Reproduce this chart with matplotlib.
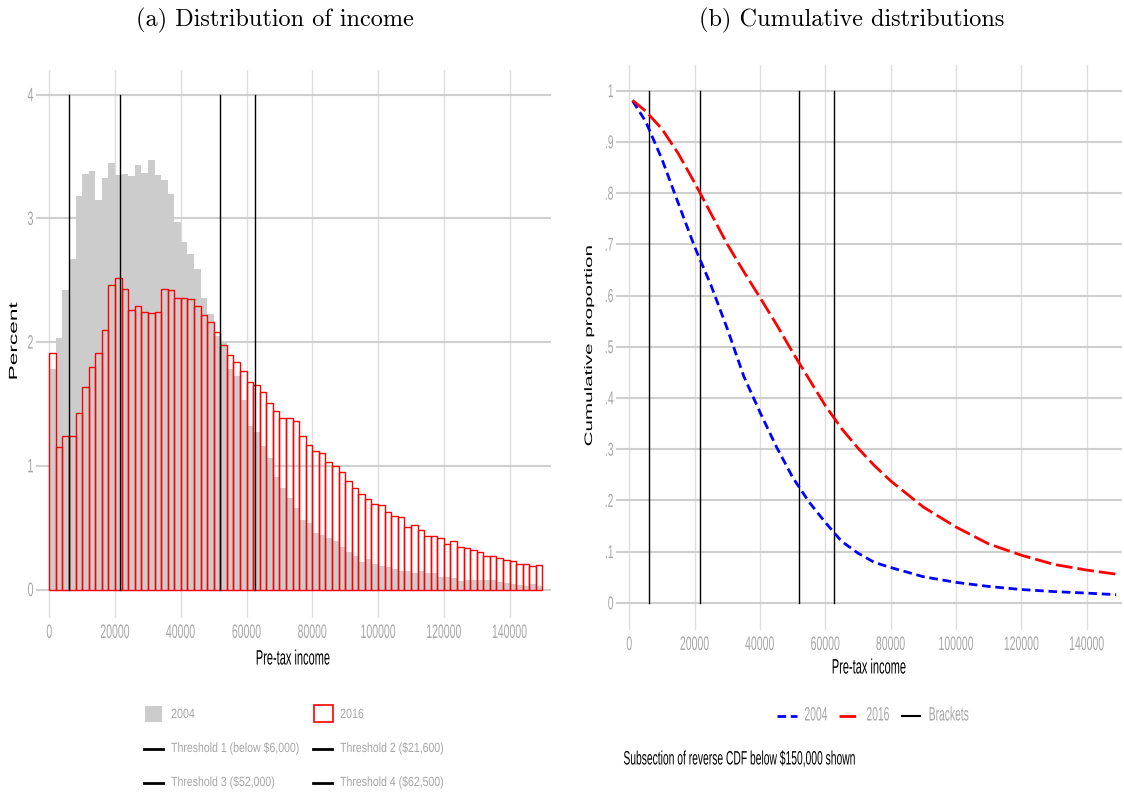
import numpy as np
import matplotlib
matplotlib.use("Agg")
import matplotlib.pyplot as plt
from matplotlib import font_manager as fm
from matplotlib.patches import Rectangle
from matplotlib.lines import Line2D
from matplotlib.patheffects import AbstractPathEffect
from matplotlib.transforms import Affine2D

names = {f.name for f in fm.fontManager.ttflist}
SANS = 'Liberation Sans' if 'Liberation Sans' in names else 'DejaVu Sans'
TITLE_FONT = 'cmr10' if 'cmr10' in names else 'DejaVu Serif'
plt.rcParams['font.family'] = [SANS, 'DejaVu Sans']

GREY_TXT = '#a6a6a6'
GRID_H = '#cfcfcf'
GRID_V = '#dedede'
SQ = 0.53   # the reference text is squeezed along the baseline


class Squeeze(AbstractPathEffect):
    """draw text scaled along its baseline (sx) and across it (sy)"""
    def __init__(self, sx=1.0, sy=1.0, anchor='center'):
        super().__init__()
        self.sx, self.sy, self.anchor = sx, sy, anchor

    def draw_path(self, renderer, gc, tpath, affine, rgbFace=None):
        ext = tpath.get_extents()
        if self.anchor == 'left':
            cx = ext.x0
        elif self.anchor == 'right':
            cx = ext.x1
        else:
            cx = (ext.x0 + ext.x1) / 2
        cy = (ext.y0 + ext.y1) / 2
        tr = Affine2D().translate(-cx, -cy).scale(self.sx, self.sy).translate(cx, cy) + affine
        renderer.draw_path(gc, tpath, tr, rgbFace)


# ---- data ----
bin_width = 2000
bin_left = np.arange(0, 150000, bin_width)

pct_2004 = [1.78, 2.03, 2.42, 2.67, 3.18, 3.36, 3.38, 3.15, 3.33, 3.45,
            3.35, 3.36, 3.34, 3.43, 3.37, 3.47, 3.35, 3.31, 3.20, 2.97,
            2.81, 2.71, 2.59, 2.36, 2.23, 2.05, 2.00, 1.78, 1.73, 1.53,
            1.32, 1.27, 1.16, 1.06, 0.91, 0.82, 0.74, 0.66, 0.56, 0.54,
            0.46, 0.44, 0.42, 0.39, 0.34, 0.30, 0.27, 0.22, 0.25, 0.21,
            0.19, 0.18, 0.17, 0.15, 0.15, 0.13, 0.15, 0.13, 0.13, 0.10,
            0.105, 0.09, 0.07, 0.075, 0.08, 0.08, 0.08, 0.075, 0.06, 0.055,
            0.045, 0.035, 0.03, 0.045, 0.03]

pct_2016 = [1.91, 1.15, 1.24, 1.245, 1.43, 1.64, 1.80, 1.91, 2.10, 2.46,
            2.52, 2.43, 2.26, 2.29, 2.24, 2.235, 2.24, 2.43, 2.42, 2.36,
            2.36, 2.35, 2.29, 2.22, 2.16, 2.08, 1.98, 1.90, 1.84, 1.77,
            1.68, 1.65, 1.60, 1.51, 1.44, 1.39, 1.39, 1.36, 1.24, 1.17,
            1.12, 1.105, 1.035, 0.995, 0.954, 0.88, 0.82, 0.77, 0.73, 0.695,
            0.68, 0.63, 0.595, 0.59, 0.505, 0.52, 0.48, 0.435, 0.43, 0.42,
            0.37, 0.39, 0.346, 0.335, 0.32, 0.30, 0.27, 0.27, 0.254, 0.24,
            0.232, 0.21, 0.21, 0.19, 0.197]

thresholds = [6000, 21600, 52000, 62500]
threshold_labels = ['Threshold 1 (below $6,000)', 'Threshold 2 ($21,600)',
                    'Threshold 3 ($52,000)', 'Threshold 4 ($62,500)']

cdf_income = [1000, 5000, 10000, 15000, 20000, 25000, 30000, 35000, 40000,
              45000, 50000, 55000, 60000, 65000, 70000, 75000, 80000, 90000,
              100000, 110000, 120000, 130000, 140000, 149000]
cdf_2004 = [0.98, 0.94, 0.866, 0.78, 0.695, 0.62, 0.535, 0.443, 0.372,
            0.305, 0.245, 0.197, 0.157, 0.12, 0.097, 0.079, 0.069, 0.051,
            0.04, 0.032, 0.026, 0.022, 0.019, 0.016]
cdf_2016 = [0.981, 0.96, 0.925, 0.877, 0.82, 0.76, 0.70, 0.647, 0.596,
            0.544, 0.489, 0.437, 0.385, 0.340, 0.302, 0.268, 0.238, 0.187,
            0.148, 0.115, 0.093, 0.075, 0.064, 0.056]

xticks = [0, 20000, 40000, 60000, 80000, 100000, 120000, 140000]
yticks_b = [0, .1, .2, .3, .4, .5, .6, .7, .8, .9, 1]
ylabels_b = ['0', '.1', '.2', '.3', '.4', '.5', '.6', '.7', '.8', '.9', '1']

fig = plt.figure(figsize=(11.24, 7.98), dpi=100)
W, H = 1124, 798


def fx(x):
    return x / W


def fy(y):
    return 1 - y / H


def px_axes(x0, y0, x1, y1):
    return fig.add_axes([fx(x0), fy(y1), (x1 - x0) / W, (y1 - y0) / H])


def ftext(x, y, s, size=14, color='black', ha='left', rot=0, sx=SQ, **kw):
    return fig.text(fx(x), fy(y), s, fontsize=size, color=color, ha=ha,
                    va='center', rotation=rot,
                    path_effects=[Squeeze(sx=sx, anchor=ha)], **kw)


def style(ax, xpad, ypad, ysize):
    for s in ax.spines.values():
        s.set_visible(False)
    ax.tick_params(length=0, colors=GREY_TXT)
    ax.tick_params(axis='x', pad=xpad, labelsize=14)
    ax.tick_params(axis='y', pad=ypad, labelsize=ysize)
    for lab in ax.get_xticklabels():
        lab.set_path_effects([Squeeze(sx=0.54, anchor='center')])
    for lab in ax.get_yticklabels():
        lab.set_path_effects([Squeeze(sx=0.55, anchor='right')])


# ---- (a) histogram ----
ax1 = px_axes(36, 70, 551, 618)
ax1.set_xlim(-4050, 152600)
ax1.set_ylim(-0.23, 4.2)
for v in xticks:
    ax1.axvline(v, color=GRID_V, lw=1.0, zorder=0)
for v in range(5):
    ax1.axhline(v, color=GRID_H, lw=1.5, zorder=0)
ax1.bar(bin_left, pct_2004, width=bin_width, align='edge', color='#cccccc',
        lw=0, zorder=1)
ax1.bar(bin_left, pct_2016, width=bin_width, align='edge', facecolor='none',
        edgecolor='red', lw=1.0, zorder=2)
for t in thresholds:
    ax1.plot([t, t], [0, 4], color='black', lw=1.0, zorder=3)
ax1.set_xticks(xticks)
ax1.set_yticks([0, 1, 2, 3, 4])
ax1.set_yticklabels(['0', '1', '2', '3', '4'])
style(ax1, 5, 1.5, 14)

# ---- (b) reverse CDF ----
ax2 = px_axes(616, 65, 1122, 630)
ax2.set_xlim(-4070, 150800)
ax2.set_ylim(-0.053, 1.05)
for v in xticks:
    ax2.axvline(v, color=GRID_V, lw=1.0, zorder=0)
for v in yticks_b:
    ax2.axhline(v, color=GRID_H, lw=1.5, zorder=0)
for t in thresholds:
    ax2.plot([t, t], [0, 1], color='black', lw=1.0, zorder=3)
ax2.plot(cdf_income, cdf_2004, color='blue', lw=2.0, dashes=(3.1, 1.7),
         zorder=4)
ax2.plot(cdf_income, cdf_2016, color='red', lw=2.0, dashes=(6.0, 1.8),
         zorder=4)
ax2.set_xticks(xticks)
ax2.set_yticks(yticks_b)
ax2.set_yticklabels(ylabels_b)
style(ax2, 5, 1.5, 13.5)

# ---- titles and axis titles ----
fig.text(fx(275), fy(20), '(a) Distribution of income', fontsize=17.5,
         family=TITLE_FONT, ha='center', va='center')
fig.text(fx(852), fy(20), '(b) Cumulative distributions', fontsize=17.5,
         family=TITLE_FONT, ha='center', va='center')
ftext(293, 659, 'Pre-tax income', size=15, ha='center')
ftext(869, 668, 'Pre-tax income', size=15, ha='center')
# rotated titles: small font stretched along the baseline
ftext(14, 341, 'Percent', size=8.5, ha='center', rot=90, sx=1.92)
ftext(589, 345, 'Cumulative proportion', size=7.8, ha='center', rot=90,
      sx=1.9)

# ---- legend (a) ----
LEG = 9.6
fig.add_artist(Rectangle((fx(145), fy(722)), 17 / W, 16 / H,
                         transform=fig.transFigure, facecolor='#cccccc',
                         edgecolor='none'))
fig.add_artist(Rectangle((fx(313.5), fy(722)), 19 / W, 17 / H,
                         transform=fig.transFigure, facecolor='none',
                         edgecolor='red', lw=1.2))
ftext(171, 715, '2004', size=LEG, sx=0.8, color=GREY_TXT)
ftext(340, 715, '2016', size=LEG, sx=0.8, color=GREY_TXT)
rows = [749, 749, 783, 783]
cols = [(144, 171), (313, 340), (144, 171), (313, 340)]
for lab, yy, (kx, tx) in zip(threshold_labels, rows, cols):
    fig.add_artist(Line2D([fx(kx), fx(kx + 19)], [fy(yy), fy(yy)],
                          transform=fig.transFigure, color='black', lw=2))
    ftext(tx, yy, lab, size=LEG, sx=0.79, color=GREY_TXT)

# ---- legend (b) ----
fig.add_artist(Line2D([fx(777), fx(797)], [fy(716), fy(716)],
                      transform=fig.transFigure, color='blue', lw=2.0,
                      dashes=(3.1, 1.7)))
fig.add_artist(Line2D([fx(839), fx(859)], [fy(716), fy(716)],
                      transform=fig.transFigure, color='red', lw=2.0,
                      dashes=(6.0, 1.8)))
fig.add_artist(Line2D([fx(902), fx(920)], [fy(716), fy(716)],
                      transform=fig.transFigure, color='black', lw=1.5))
ftext(804, 716, '2004', color=GREY_TXT)
ftext(866, 716, '2016', color=GREY_TXT)
ftext(928, 716, 'Brackets', color=GREY_TXT)

ftext(623, 760, 'Subsection of reverse CDF below $150,000 shown', size=14)

fig.savefig('out.png', dpi=100)
